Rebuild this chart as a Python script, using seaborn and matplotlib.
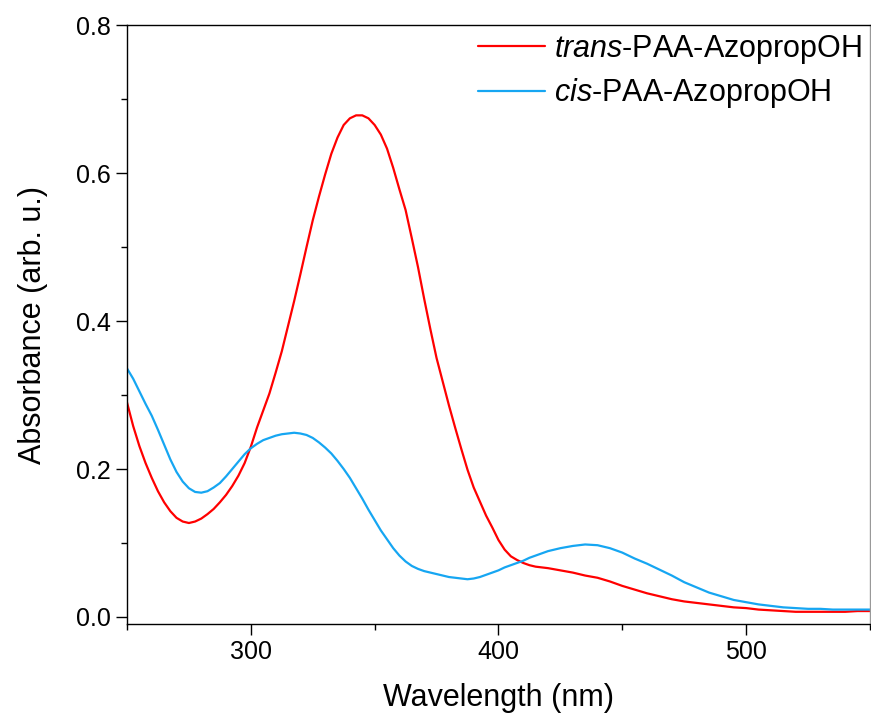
import numpy as np
import matplotlib
matplotlib.use("Agg")
import matplotlib.pyplot as plt
from matplotlib.ticker import MultipleLocator
import pandas as pd
import seaborn as sns

# wavelength grid (nm): 2.5 nm steps through the bands, 5 nm in the tail
wavelength = [250 + 2.5 * i for i in range(69)] + list(range(425, 551, 5))

# trans isomer, absorbance
trans_abs = [0.290, 0.258, 0.231, 0.208, 0.188, 0.170, 0.155, 0.143, 0.134, 0.129,
             0.127, 0.129, 0.133, 0.139, 0.146, 0.155, 0.165, 0.177, 0.191, 0.208,
             0.230,
             0.256, 0.279, 0.302, 0.330, 0.359, 0.393, 0.427, 0.463, 0.500, 0.536,
             0.568, 0.598, 0.626, 0.648, 0.665, 0.674, 0.678, 0.678,
             0.674, 0.665, 0.652, 0.633, 0.607, 0.578, 0.550, 0.512, 0.473, 0.430,
             0.389, 0.350, 0.318, 0.286, 0.256, 0.227, 0.199, 0.175, 0.156, 0.137,
             0.121, 0.104, 0.091, 0.082, 0.077, 0.073, 0.070, 0.068, 0.067, 0.066,
             0.063, 0.060, 0.056, 0.053, 0.048, 0.042, 0.037, 0.032, 0.028, 0.024,
             0.021, 0.019, 0.017, 0.015, 0.013, 0.012, 0.010, 0.009, 0.008, 0.007,
             0.007, 0.007, 0.007, 0.007, 0.008, 0.008]

# cis isomer, absorbance
cis_abs = [0.336, 0.322, 0.305, 0.288, 0.272, 0.253, 0.233, 0.213, 0.196, 0.183,
           0.174, 0.169, 0.168, 0.170, 0.175, 0.181, 0.190, 0.200, 0.210, 0.220,
           0.228,
           0.234, 0.239, 0.242, 0.245, 0.247, 0.248, 0.249, 0.248, 0.246, 0.242,
           0.236, 0.229, 0.221, 0.211, 0.200, 0.188, 0.174, 0.160,
           0.145, 0.131, 0.117, 0.105, 0.093, 0.083, 0.075, 0.069, 0.065, 0.062,
           0.060, 0.058, 0.056, 0.054, 0.053, 0.052, 0.051, 0.052, 0.054, 0.057,
           0.060, 0.063, 0.067, 0.070, 0.073, 0.076, 0.080, 0.083, 0.086, 0.089,
           0.093, 0.096, 0.098, 0.097, 0.093, 0.087, 0.079, 0.072, 0.064, 0.056,
           0.047, 0.040, 0.033, 0.028, 0.023, 0.020, 0.017, 0.015, 0.013, 0.012,
           0.011, 0.011, 0.010, 0.010, 0.010, 0.010]

labels = [r"$trans$-PAA-AzopropOH", r"$cis$-PAA-AzopropOH"]
colors = ["#FF0000", "#16A6F2"]

df = pd.concat([
    pd.DataFrame({"wl": wavelength, "abs": trans_abs, "sample": labels[0]}),
    pd.DataFrame({"wl": wavelength, "abs": cis_abs, "sample": labels[1]}),
])

sns.set_style("ticks")
plt.rcParams["font.family"] = ["Liberation Sans", "DejaVu Sans"]
plt.rcParams["mathtext.fontset"] = "custom"
plt.rcParams["mathtext.rm"] = "Liberation Sans"
plt.rcParams["mathtext.it"] = "Liberation Sans:italic"
for key in ["text.color", "axes.labelcolor", "xtick.color", "ytick.color"]:
    plt.rcParams[key] = "black"

fig = plt.figure(figsize=(8.71, 7.17), dpi=100)
ax = fig.add_axes([0.1458, 0.1297, 0.8530, 0.8353])

sns.lineplot(data=df, x="wl", y="abs", hue="sample", palette=colors,
             linewidth=1.6, ax=ax, sort=False)

ax.set_xlim(250, 550)
ax.set_ylim(-0.0095, 0.8)
ax.xaxis.set_major_locator(MultipleLocator(100))
ax.xaxis.set_minor_locator(MultipleLocator(50))
ax.yaxis.set_minor_locator(MultipleLocator(0.1))
ax.set_yticks([0.0, 0.2, 0.4, 0.6, 0.8])
ax.set_yticklabels(["0.0", "0.2", "0.4", "0.6", "0.8"])

ax.tick_params(which="major", direction="out", length=8, width=1.0,
               labelsize=18, color="black", labelcolor="black")
ax.tick_params(which="minor", direction="out", length=4.5, width=1.0,
               color="black")
for side in ["left", "bottom", "top"]:
    ax.spines[side].set_color("black")
    ax.spines[side].set_linewidth(1.0)
ax.spines["right"].set_color("#999999")
ax.spines["right"].set_linewidth(1.0)

ax.set_xlabel("Wavelength (nm)", fontsize=22, labelpad=14)
ax.set_ylabel("Absorbance (arb. u.)", fontsize=22, labelpad=20)

ax.legend(loc="upper right", frameon=False, fontsize=22,
          handlelength=2.2, handletextpad=0.3, labelspacing=0.35,
          borderaxespad=0.0, borderpad=0.25)

fig.savefig("out.png", dpi=100)
